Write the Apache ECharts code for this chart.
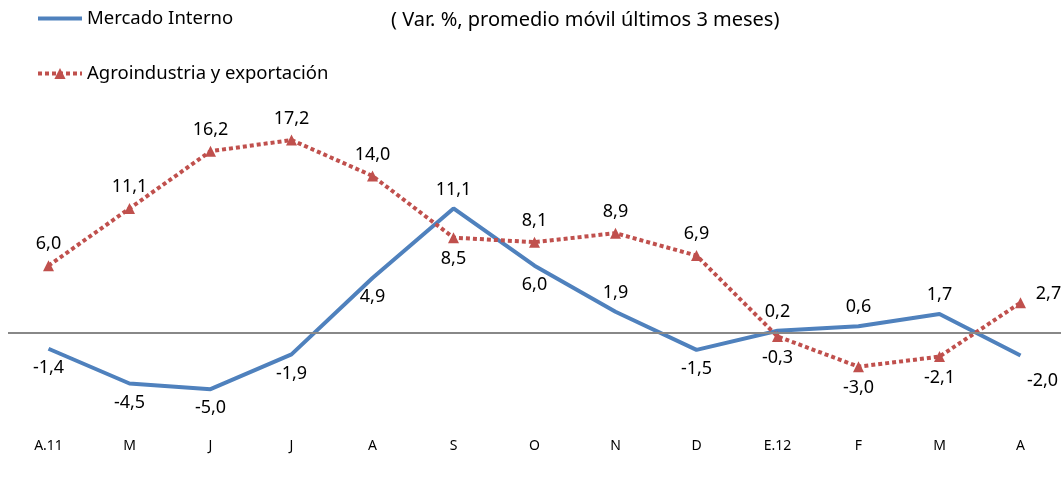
<!DOCTYPE html>
<html>
<head>
<meta charset="utf-8">
<script src="https://cdn.jsdelivr.net/npm/echarts@6/dist/echarts.min.js"></script>
<style>
  html, body { margin: 0; padding: 0; background: #fff; }
  #chart { width: 1063px; height: 483px; }
</style>
</head>
<body>
<div id="chart"></div>
<script>
var categories = ['A.11', 'M', 'J', 'J', 'A', 'S', 'O', 'N', 'D', 'E.12', 'F', 'M', 'A'];
var mercadoInterno = [-1.4, -4.5, -5.0, -1.9, 4.9, 11.1, 6.0, 1.9, -1.5, 0.2, 0.6, 1.7, -2.0];
var agroExport = [6.0, 11.1, 16.2, 17.2, 14.0, 8.5, 8.1, 8.9, 6.9, -0.3, -3.0, -2.1, 2.7];

// where each value label sits (style only)
var mercadoLabelPos = ['bottom', 'bottom', 'bottom', 'bottom', 'bottom', 'top', 'bottom', 'top', 'bottom', 'top', 'top', 'top', 'bottom'];
var agroLabelPos = ['top', 'top', 'top', 'top', 'top', 'bottom', 'top', 'top', 'top', 'bottom', 'bottom', 'bottom', 'top'];

var FONT = '"Noto Sans", "Open Sans", sans-serif';

function fmt(v) {
    return v.toFixed(1).replace('.', ',');
}

function withLabels(values, positions, lastOffset) {
    return values.map(function (v, i) {
        var item = { value: v, label: { position: positions[i] } };
        if (i === values.length - 1) {
            item.label.offset = lastOffset;
        }
        return item;
    });
}

var myChart = echarts.init(document.getElementById('chart'));

var option = {
    animation: false,
    title: {
        text: '( Var. %, promedio móvil últimos 3 meses)',
        left: 386,
        top: 5,
        textStyle: {
            fontFamily: FONT,
            fontWeight: 'normal',
            fontSize: 20,
            color: '#000'
        }
    },
    legend: {
        orient: 'vertical',
        left: 31,
        top: 4,
        itemWidth: 44,
        itemHeight: 14,
        itemGap: 36,
        textStyle: {
            fontFamily: FONT,
            fontSize: 18.5,
            color: '#000'
        },
        data: [
            { name: 'Mercado Interno', itemStyle: { opacity: 0 }, lineStyle: { width: 4 } },
            { name: 'Agroindustria y exportación', lineStyle: { width: 4 } }
        ]
    },
    grid: {
        left: 8,
        right: 2,
        top: 108.6,
        bottom: 60.2
    },
    xAxis: {
        type: 'category',
        data: categories,
        boundaryGap: true,
        axisLine: { show: false },
        axisTick: { show: false },
        axisLabel: {
            margin: 16,
            fontFamily: FONT,
            fontSize: 14,
            color: '#000'
        }
    },
    yAxis: {
        type: 'value',
        min: -8,
        max: 20,
        show: false,
        splitLine: { show: false }
    },
    series: [
        {
            name: 'Mercado Interno',
            type: 'line',
            symbol: 'circle',
            symbolSize: 0.1,
            z: 3,
            lineStyle: { color: '#4F81BD', width: 4 },
            itemStyle: { color: '#4F81BD' },
            label: {
                show: true,
                distance: 10,
                fontFamily: FONT,
                fontSize: 18,
                color: '#000',
                formatter: function (p) { return fmt(p.value); }
            },
            markLine: {
                silent: true,
                symbol: 'none',
                label: { show: false },
                lineStyle: { color: '#888888', width: 2, type: 'solid' },
                data: [{ yAxis: 0 }]
            },
            data: withLabels(mercadoInterno, mercadoLabelPos, [22, 6])
        },
        {
            name: 'Agroindustria y exportación',
            type: 'line',
            symbol: 'triangle',
            symbolSize: 11,
            z: 4,
            lineStyle: { color: '#C0504D', width: 4, type: [4, 3] },
            itemStyle: { color: '#C0504D' },
            label: {
                show: true,
                distance: 7,
                fontFamily: FONT,
                fontSize: 18,
                color: '#000',
                formatter: function (p) { return fmt(p.value); }
            },
            data: withLabels(agroExport, agroLabelPos, [28, 13])
        }
    ]
};

myChart.setOption(option);

window.onresize = function () {
    myChart.resize();
};
</script>
</body>
</html>
